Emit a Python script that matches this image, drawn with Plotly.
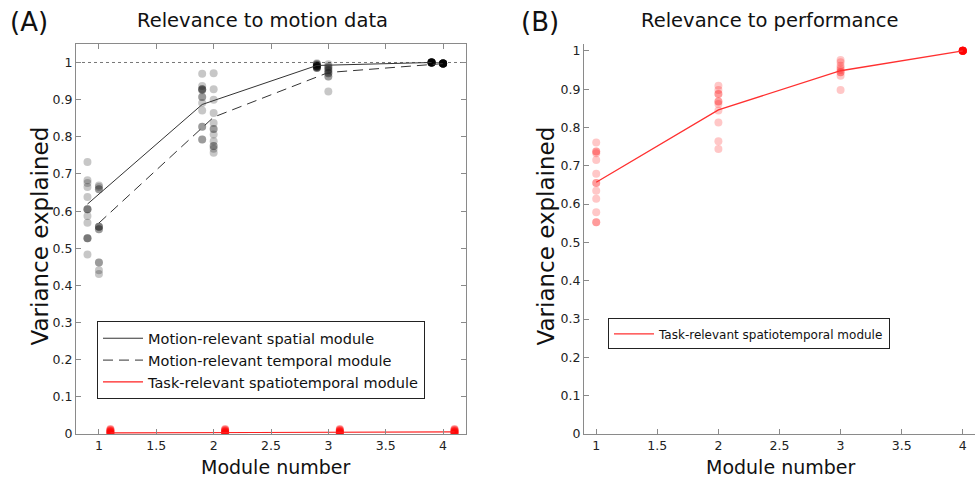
import plotly.graph_objects as go

# ---------------- data ----------------
modules = [1, 2, 3, 4]
x_ticks = [1, 1.5, 2, 2.5, 3, 3.5, 4]
y_ticks = [0, 0.1, 0.2, 0.3, 0.4, 0.5, 0.6, 0.7, 0.8, 0.9, 1]
y_tick_labels = ["0", "0.1", "0.2", "0.3", "0.4", "0.5", "0.6", "0.7", "0.8", "0.9", "1"]

# Panel A: per-subject variance explained (motion data)
spatial_pts = [
    [0.732, 0.683, 0.676, 0.665, 0.638, 0.605, 0.605, 0.605, 0.587, 0.569, 0.527, 0.527, 0.527, 0.483],
    [0.970, 0.937, 0.928, 0.928, 0.928, 0.925, 0.907, 0.907, 0.891, 0.871, 0.827, 0.827, 0.793, 0.793],
    [0.998, 0.996, 0.995, 0.993, 0.992, 0.991, 0.990, 0.990, 0.989, 0.988, 0.987, 0.986, 0.985, 0.985],
    [1.0] * 15,
]
temporal_pts = [
    [0.669, 0.665, 0.659, 0.659, 0.558, 0.558, 0.558, 0.551, 0.551, 0.462, 0.462, 0.441, 0.431],
    [0.971, 0.928, 0.900, 0.864, 0.837, 0.821, 0.821, 0.806, 0.788, 0.775, 0.775, 0.768, 0.757],
    [0.995, 0.990, 0.987, 0.985, 0.980, 0.980, 0.975, 0.971, 0.971, 0.962, 0.962, 0.922],
    [0.997] * 15,
]
task_motion_pts = [
    [0.0, 0.002, 0.004, 0.006, 0.008, 0.010, 0.012, 0.014, 0.003, 0.007],
    [0.0, 0.002, 0.004, 0.006, 0.008, 0.010, 0.012, 0.014, 0.003, 0.007],
    [0.0, 0.002, 0.004, 0.006, 0.008, 0.010, 0.012, 0.014, 0.003, 0.007],
    [0.0, 0.002, 0.004, 0.006, 0.008, 0.010, 0.012, 0.014, 0.003, 0.007],
]
spatial_mean = [0.619, 0.887, 0.992, 1.0]
temporal_mean = [0.568, 0.853, 0.973, 0.997]
task_motion_mean = [0.003, 0.004, 0.005, 0.006]

# Panel B: per-subject variance explained (performance)
task_perf_pts = [
    [0.761, 0.737, 0.737, 0.733, 0.715, 0.679, 0.655, 0.655, 0.635, 0.614, 0.579, 0.553, 0.553],
    [0.909, 0.898, 0.887, 0.887, 0.868, 0.868, 0.861, 0.844, 0.813, 0.764, 0.744],
    [0.976, 0.970, 0.961, 0.955, 0.950, 0.944, 0.944, 0.935, 0.898],
    [1.0] * 15,
]
task_perf_mean = [0.657, 0.846, 0.948, 1.0]

labels_A = ["Motion-relevant spatial module",
            "Motion-relevant temporal module",
            "Task-relevant spatiotemporal module"]
label_B = "Task-relevant spatiotemporal module"

# ---------------- figure ----------------
FONT = "DejaVu Sans"
W, H = 977, 482
PH = 475  # plot-area height after the small automatic bottom push
fig = go.Figure()

def px_x(p):
    return p / W

def dom_y(p):
    return 1 - p / PH

offsets = {"spatial": -0.1, "temporal": 0.0, "task": 0.1}

def scatter_pts(groups, off, color, xaxis, yaxis, opacity):
    xs, ys = [], []
    for m, vals in zip(modules, groups):
        xs += [m + off] * len(vals)
        ys += vals
    fig.add_trace(go.Scatter(
        x=xs, y=ys, mode="markers", showlegend=False, hoverinfo="skip",
        marker=dict(size=8, color=color, opacity=opacity, line=dict(width=0)),
        xaxis=xaxis, yaxis=yaxis, cliponaxis=True))

# Panel A points
scatter_pts(spatial_pts, offsets["spatial"], "black", "x", "y", 0.22)
scatter_pts(temporal_pts, offsets["temporal"], "black", "x", "y", 0.22)
scatter_pts(task_motion_pts, offsets["task"], "red", "x", "y", 0.3)

# Panel A mean lines
fig.add_trace(go.Scatter(
    x=[m + offsets["spatial"] for m in modules], y=spatial_mean, mode="lines",
    line=dict(color="#333333", width=1), name=labels_A[0], legend="legend",
    xaxis="x", yaxis="y"))
fig.add_trace(go.Scatter(
    x=[m + offsets["temporal"] for m in modules], y=temporal_mean, mode="lines",
    line=dict(color="#333333", width=1, dash="10px,6px"), name=labels_A[1], legend="legend",
    xaxis="x", yaxis="y"))
fig.add_trace(go.Scatter(
    x=[m + offsets["task"] for m in modules], y=task_motion_mean, mode="lines",
    line=dict(color="#ff2020", width=1.2), name=labels_A[2], legend="legend",
    xaxis="x", yaxis="y"))

# Panel B
scatter_pts(task_perf_pts, 0.0, "red", "x2", "y2", 0.22)
fig.add_trace(go.Scatter(
    x=modules, y=task_perf_mean, mode="lines",
    line=dict(color="#ff3030", width=1.3), name=label_B, legend="legend2",
    xaxis="x2", yaxis="y2"))

axis_col = "#8a8a8a"
tickfont = dict(family=FONT, size=12.5, color="#222222")

common = dict(ticks="inside", ticklen=5, tickcolor=axis_col, showline=True,
              linecolor=axis_col, linewidth=1, showgrid=False, zeroline=False,
              tickfont=tickfont)

fig.update_layout(
    width=W, height=H,
    margin=dict(l=0, r=0, t=0, b=0, pad=0),
    paper_bgcolor="white", plot_bgcolor="white",
    font=dict(family=FONT, color="#111111"),
    xaxis=dict(domain=[px_x(76), px_x(466)], range=[0.8, 4.2],
               tickvals=x_ticks, ticktext=[str(v) for v in x_ticks],
               mirror="ticks", anchor="y", automargin=False, **common),
    yaxis=dict(domain=[dom_y(434), dom_y(43)], range=[0, 1.05],
               tickvals=y_ticks, ticktext=y_tick_labels,
               mirror="ticks", anchor="x", automargin=False, **common),
    xaxis2=dict(domain=[px_x(584), px_x(975)], range=[0.9, 4.1],
                tickvals=x_ticks, ticktext=[str(v) for v in x_ticks],
                anchor="y2", automargin=False, **common),
    yaxis2=dict(domain=[dom_y(434), dom_y(43)], range=[0, 1.018],
                tickvals=y_ticks, ticktext=y_tick_labels,
                anchor="x2", automargin=True, **common),
    legend=dict(x=px_x(97), y=dom_y(321), xanchor="left", yanchor="top",
                bgcolor="white", bordercolor="#222222", borderwidth=1,
                font=dict(family=FONT, size=14.5, color="#111111"),
                tracegroupgap=0, itemwidth=40),
    legend2=dict(x=px_x(608), y=dom_y(318), xanchor="left", yanchor="top",
                 bgcolor="white", bordercolor="#222222", borderwidth=1,
                 font=dict(family=FONT, size=12, color="#111111"),
                 itemwidth=40),
)

# dotted reference line at 1 in panel A
fig.add_shape(type="line", xref="x domain", yref="y", x0=0, x1=1, y0=1, y1=1,
              line=dict(color="#777777", width=1, dash="dot"), layer="below")

def ann(text, x, y, size, angle=0):
    fig.add_annotation(text=text, x=px_x(x), y=dom_y(y), xref="paper", yref="paper",
                       showarrow=False, xanchor="center", yanchor="middle",
                       textangle=angle, font=dict(family=FONT, size=size, color="#111111"))

ann("(A)", 29, 21, 26)
ann("(B)", 540, 21, 26)
ann("Relevance to motion data", 262, 20, 19.5)
ann("Relevance to performance", 770, 20, 19.5)
ann("Variance explained", 40, 236, 23, -90)
ann("Variance explained", 546, 236, 23, -90)
ann("Module number", 275, 467, 19)
ann("Module number", 780, 467, 19)

fig.write_html("out.html")
